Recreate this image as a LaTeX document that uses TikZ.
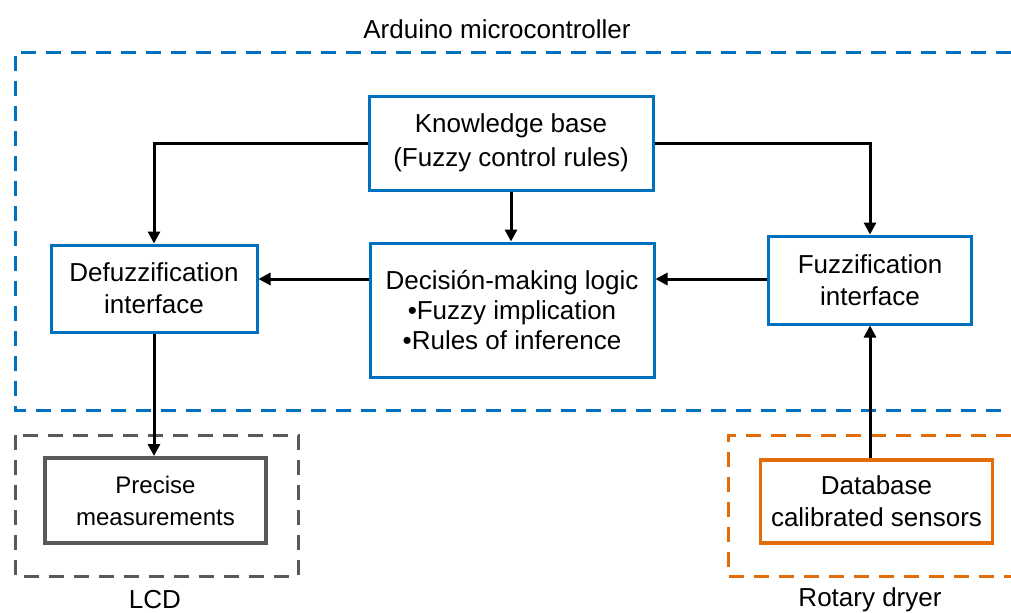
\documentclass[tikz,border=0pt]{standalone}
\usepackage{fontspec}
\setmainfont{Liberation Sans}
\usetikzlibrary{arrows.meta}
\definecolor{cblue}{HTML}{0070C0}
\definecolor{corange}{HTML}{E26B0A}
\definecolor{cgray}{HTML}{595959}
\begin{document}
\begin{tikzpicture}[x=0.5pt,y=-0.5pt,
  box/.style={draw=cblue, line width=1.5pt, inner sep=0pt, align=center,
    font=\fontsize{13}{16}\selectfont},
  grayblock/.style={draw=cgray, line width=2pt, inner sep=0pt, align=center,
    font=\fontsize{12}{16}\selectfont},
  orangeblock/.style={draw=corange, line width=1.8pt, inner sep=0pt, align=center,
    font=\fontsize{13}{16}\selectfont},
  frame/.style={line width=1.5pt, dash pattern=on 7.5pt off 5pt},
  lbl/.style={font=\fontsize{13}{16}\selectfont, inner sep=0pt},
  arr/.style={line width=1.5pt, -{Triangle[length=6pt,width=6pt]}}
]
\useasboundingbox (0,0) rectangle (1011,612);

% frames
\draw[frame, cblue] (1011,52) -- (15,52) -- (15,410) -- (1011,410);
\draw[frame, cgray] (15,435) rectangle (298,576);
\draw[frame, corange] (1011,435) -- (728,435) -- (728,576) -- (1011,576);

% labels
\node[lbl] (tarduino) at (497,29) {Arduino microcontroller};
\node[lbl] (tlcd) at (155,600) {LCD};
\node[lbl] (tdryer) at (870,600) {Rotary dryer};

% blocks
\node[box, minimum width=142pt, minimum height=47pt] (kb) at (511,143)
  {\raisebox{3pt}{\shortstack{Knowledge base\\[2pt](Fuzzy control rules)}}};
\node[box, minimum width=103pt, minimum height=43.5pt] (def) at (154,288.5)
  {Defuzzification\\interface};
\node[box, minimum width=142pt, minimum height=67pt, font=\fontsize{13}{15}\selectfont] (dec) at (512,310)
  {Decisión-making logic\\\textbullet Fuzzy implication\\\textbullet Rules of inference};
\node[box, minimum width=101.5pt, minimum height=44pt] (fuz) at (870,280)
  {Fuzzification\\interface};
\node[grayblock, minimum width=110.5pt, minimum height=42.5pt] (pre) at (155.5,500.5)
  {Precise\\measurements};
\node[orangeblock, minimum width=116pt, minimum height=41.5pt] (db) at (876.5,501.5)
  {Database\\calibrated sensors};

\coordinate (ry) at (0,279);

% connectors
\draw[arr] (kb.west) -| (def.north);
\draw[arr] (kb.east) -| (fuz.north);
\draw[arr] (kb.south) -- (dec.north -| kb.south);
\draw[arr] (fuz.west |- ry) -- (dec.east |- ry);
\draw[arr] (dec.west |- ry) -- (def.east |- ry);
\draw[arr] (def.south) -- (pre.north -| def.south);
\draw[arr] (db.north -| fuz.south) -- (fuz.south);
\end{tikzpicture}
\end{document}
